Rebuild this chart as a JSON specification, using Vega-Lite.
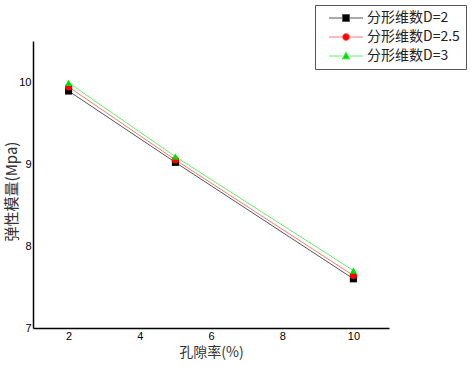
{
  "$schema": "https://vega.github.io/schema/vega-lite/v6.json",
  "width": 356,
  "height": 287,
  "autosize": "none",
  "padding": {"left": 33, "top": 41, "right": 81, "bottom": 39},
  "background": "white",
  "config": {
    "view": {"stroke": null},
    "axis": {
      "grid": false,
      "domainColor": "black",
      "domainWidth": 1.5,
      "ticks": false,
      "labelFont": "Liberation Sans",
      "labelFontSize": 11,
      "labelColor": "black",
      "titleFont": "Noto Sans CJK SC",
      "titleFontWeight": "normal",
      "titleColor": "#333333"
    }
  },
  "data": {
    "values": [
      {"series": "分形维数D=2", "porosity": 2, "modulus": 9.89},
      {"series": "分形维数D=2", "porosity": 5, "modulus": 9.02},
      {"series": "分形维数D=2", "porosity": 10, "modulus": 7.6},
      {"series": "分形维数D=2.5", "porosity": 2, "modulus": 9.94},
      {"series": "分形维数D=2.5", "porosity": 5, "modulus": 9.05},
      {"series": "分形维数D=2.5", "porosity": 10, "modulus": 7.64},
      {"series": "分形维数D=3", "porosity": 2, "modulus": 9.99},
      {"series": "分形维数D=3", "porosity": 5, "modulus": 9.09},
      {"series": "分形维数D=3", "porosity": 10, "modulus": 7.7}
    ]
  },
  "encoding": {
    "x": {
      "field": "porosity", "type": "quantitative",
      "scale": {"domain": [1, 11], "nice": false},
      "axis": {"values": [2, 4, 6, 8, 10], "title": "孔隙率(%)", "titleFontSize": 14, "labelPadding": 2, "titlePadding": 4}
    },
    "y": {
      "field": "modulus", "type": "quantitative",
      "scale": {"domain": [7, 10.5], "nice": false, "zero": false},
      "axis": {"values": [7, 8, 9, 10], "title": "弹性模量(Mpa)", "titleFontSize": 15, "labelPadding": 2, "titleX": -14, "titleY": 150}
    }
  },
  "layer": [
    {
      "mark": {"type": "line", "strokeWidth": 1},
      "encoding": {
        "stroke": {
          "field": "series", "type": "nominal",
          "scale": {"domain": ["分形维数D=2", "分形维数D=2.5", "分形维数D=3"], "range": ["#555555", "#ff7777", "#66ee66"]},
          "legend": null
        }
      }
    },
    {
      "mark": {"type": "point", "filled": true, "size": 50, "opacity": 1, "strokeWidth": 0},
      "encoding": {
        "fill": {
          "field": "series", "type": "nominal",
          "scale": {"domain": ["分形维数D=2", "分形维数D=2.5", "分形维数D=3"], "range": ["#000000", "#ff0000", "#00dd00"]},
          "legend": null
        },
        "shape": {
          "field": "series", "type": "nominal",
          "scale": {"domain": ["分形维数D=2", "分形维数D=2.5", "分形维数D=3"], "range": ["square", "circle", "triangle-up"]},
          "legend": null
        }
      }
    },
    {
      "mark": {"type": "point", "filled": true, "size": 100, "opacity": 0, "strokeWidth": 1},
      "encoding": {
        "fill": {
          "field": "series2", "type": "nominal",
          "scale": {"domain": ["分形维数D=2", "分形维数D=2.5", "分形维数D=3"], "range": ["#000000", "#ff0000", "#00dd00"]}
        },
        "stroke": {
          "field": "series2", "type": "nominal",
          "scale": {"domain": ["分形维数D=2", "分形维数D=2.5", "分形维数D=3"], "range": ["#555555", "#ff7777", "#66ee66"]}
        },
        "shape": {
          "field": "series2", "type": "nominal",
          "scale": {"domain": ["分形维数D=2", "分形维数D=2.5", "分形维数D=3"], "range": [
            "M-3.4,0H-0.7M0.7,0H3.4M-0.7,-0.7H0.7V0.7H-0.7Z",
            "M-3.4,0H-0.7M0.7,0H3.4M-0.7,0A0.7,0.7,0,1,0,0.7,0A0.7,0.7,0,1,0,-0.7,0Z",
            "M-3.4,0H-0.8M0.8,0H3.4M0,-0.8L0.8,0.6H-0.8Z"
          ]},
          "legend": {
            "title": null,
            "orient": "none",
            "legendX": 282,
            "legendY": -36,
            "strokeColor": "#555555",
            "fillColor": "white",
            "padding": 6,
            "symbolSize": 100,
            "symbolOffset": 18,
            "symbolOpacity": 1,
            "symbolStrokeWidth": 1,
            "labelOffset": 14,
            "labelFont": "Noto Sans CJK SC",
            "labelFontSize": 14,
            "labelColor": "#222222",
            "rowPadding": 5
          }
        }
      }
    }
  ],
  "resolve": {"scale": {"shape": "independent", "fill": "independent", "stroke": "independent"}}
}
